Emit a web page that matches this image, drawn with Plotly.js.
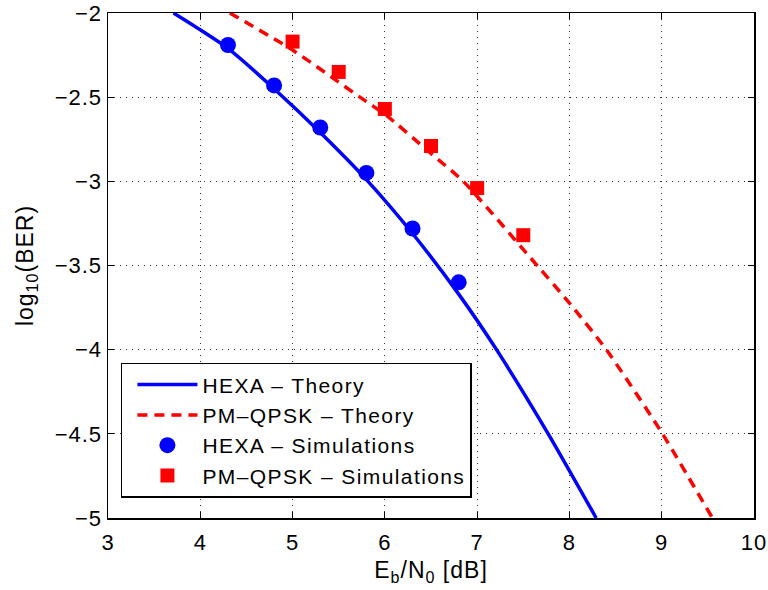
<!DOCTYPE html>
<html>
<head>
<meta charset="utf-8">
<script src="https://cdn.plot.ly/plotly-3.0.1.min.js"></script>
<style>
html,body{margin:0;padding:0;background:#fff;}
#chart{width:768px;height:590px;}
.legendtext{letter-spacing:1.4px;}
.xtick text, .ytick text{letter-spacing:1px;}
.xtitle, .ytitle{letter-spacing:1px;}
</style>
</head>
<body>
<div id="chart"></div>
<script>
// Theory curves
const hexaTheoryX = [3.71, 4.00, 4.30, 4.80, 5.30, 5.80, 6.30, 6.80, 7.21, 7.77, 8.29];
const hexaTheoryY = [-2.0, -2.10, -2.21, -2.45, -2.71, -2.99, -3.31, -3.67, -4.0, -4.5, -5.0];
const qpskTheoryX = [4.32, 5.00, 5.73, 6.02, 6.49, 6.85, 7.54, 8.01, 8.40, 8.98, 9.55];
const qpskTheoryY = [-2.0, -2.22, -2.5, -2.61, -2.83, -3.0, -3.43, -3.73, -4.0, -4.475, -5.0];
// Simulation points
const hexaSimX = [4.3, 4.8, 5.3, 5.8, 6.3, 6.8];
const hexaSimY = [-2.19, -2.43, -2.68, -2.95, -3.28, -3.60];
const qpskSimX = [5.0, 5.5, 6.0, 6.5, 7.0, 7.5];
const qpskSimY = [-2.17, -2.35, -2.57, -2.79, -3.04, -3.32];
// Axis ticks
const xTicks = [3, 4, 5, 6, 7, 8, 9, 10];
const yTicks = [-5, -4.5, -4, -3.5, -3, -2.5, -2];

const FONT = 'Liberation Sans, Arial, Helvetica, sans-serif';

const traces = [
  {x: hexaTheoryX, y: hexaTheoryY, mode: 'lines', name: 'HEXA \u2013 Theory',
   line: {color: '#0000ff', width: 3.5, shape: 'spline', smoothing: 0.6}},
  {x: qpskTheoryX, y: qpskTheoryY, mode: 'lines', name: 'PM\u2013QPSK \u2013 Theory',
   line: {color: '#ff0000', width: 3.5, dash: '10px,7px', shape: 'spline', smoothing: 0.6}},
  {x: hexaSimX, y: hexaSimY, mode: 'markers', name: 'HEXA \u2013 Simulations',
   marker: {color: '#0000ff', symbol: 'circle', size: 16}},
  {x: qpskSimX, y: qpskSimY, mode: 'markers', name: 'PM\u2013QPSK \u2013 Simulations',
   marker: {color: '#ff0000', symbol: 'square', size: 14}}
];

const axisCommon = {
  showline: true, linecolor: '#000', linewidth: 1.5, mirror: 'ticks',
  ticks: 'inside', ticklen: 6, tickcolor: '#000', tickwidth: 1,
  showgrid: true, gridcolor: '#333', griddash: '1px,5px', gridwidth: 1,
  zeroline: false, tickfont: {family: FONT, size: 22, color: '#000'}
};

const layout = {
  width: 768, height: 590,
  margin: {l: 108, r: 14, t: 13, b: 72},
  paper_bgcolor: '#fff', plot_bgcolor: '#fff',
  font: {family: FONT, size: 22, color: '#000'},
  xaxis: Object.assign({}, axisCommon, {
    range: [3, 10], tickvals: xTicks, ticktext: xTicks.map(String),
    ticklabelstandoff: 4,
    title: {text: 'E<sub>b</sub>/N<sub>0</sub> [dB]', font: {family: FONT, size: 23}, standoff: 8}
  }),
  yaxis: Object.assign({}, axisCommon, {
    range: [-5, -2], tickvals: yTicks,
    title: {text: 'log<sub>10</sub>(BER)', font: {family: FONT, size: 23}, standoff: 14}
  }),
  showlegend: true,
  legend: {
    x: 0.020, y: 0.307, xanchor: 'left', yanchor: 'top',
    bgcolor: '#fff', bordercolor: '#000', borderwidth: 1.5,
    font: {family: FONT, size: 21, color: '#000'},
    itemwidth: 60, tracegroupgap: 0, indentation: 10
  }
};

Plotly.newPlot('chart', traces, layout, {displayModeBar: false, staticPlot: true});
</script>
</body>
</html>
